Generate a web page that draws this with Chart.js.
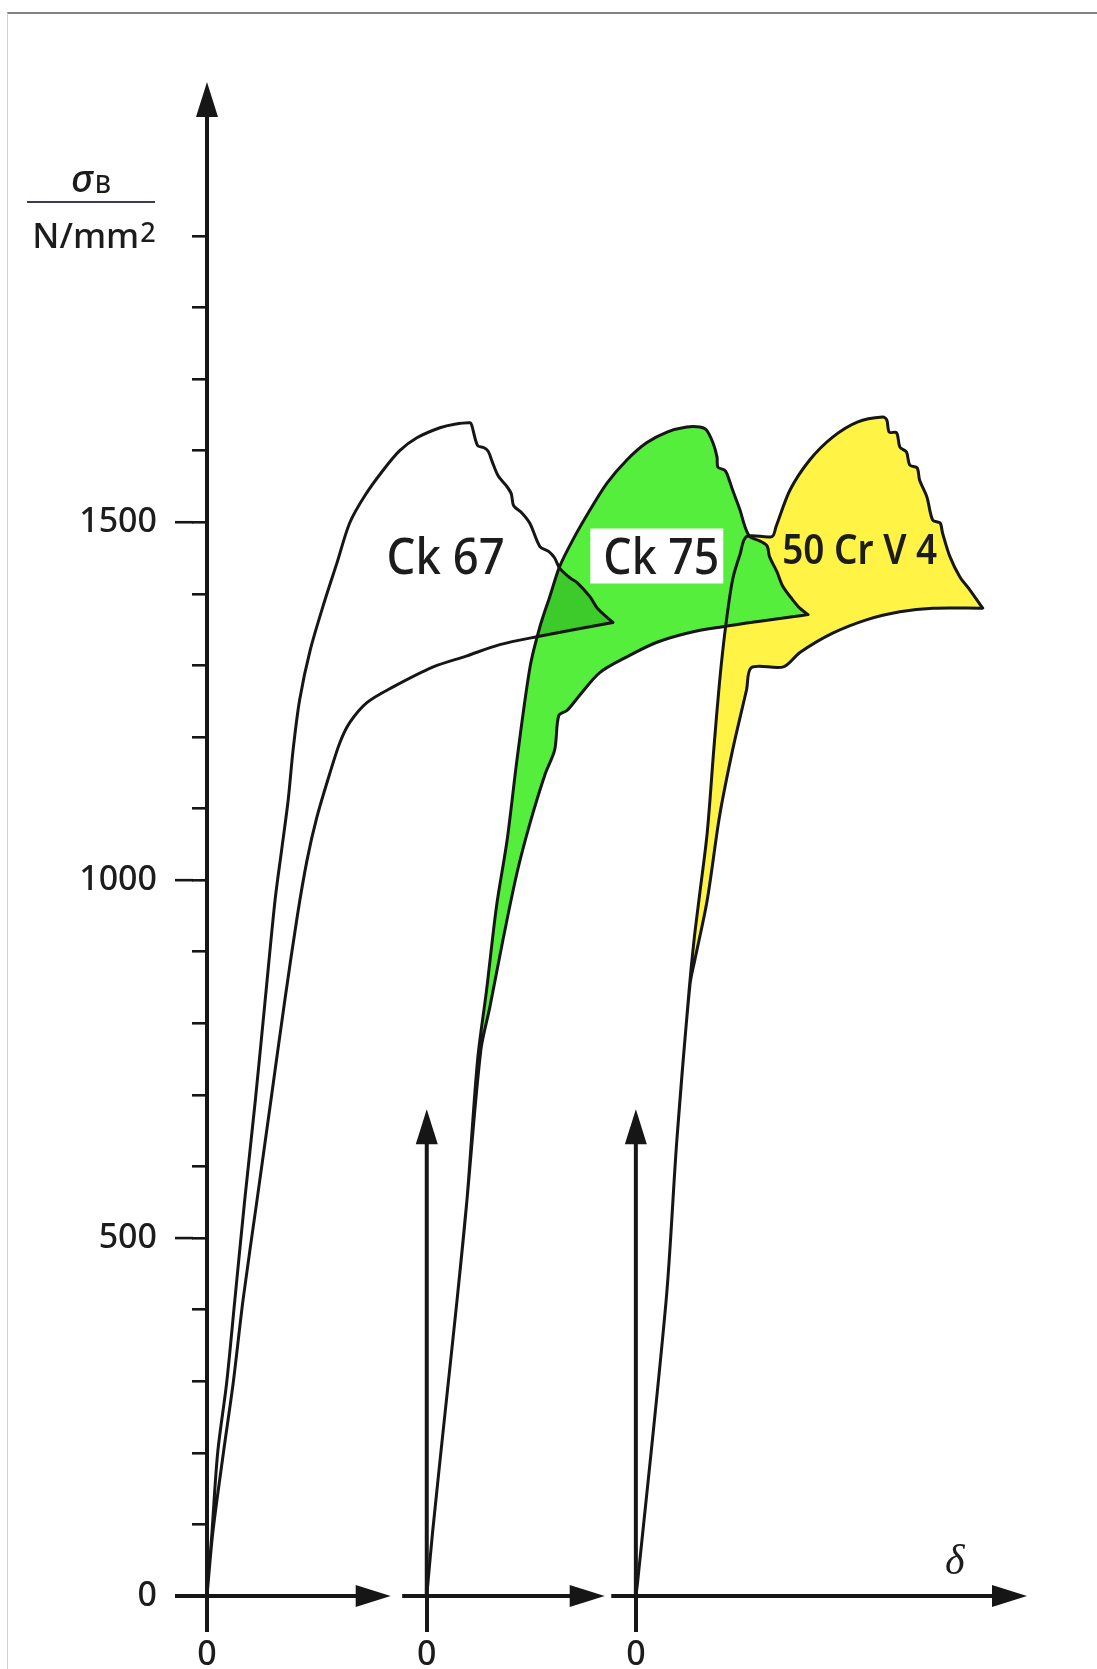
<!DOCTYPE html>
<html>
<head>
<meta charset="utf-8">
<script src="https://cdn.jsdelivr.net/npm/chart.js@4.4.1/dist/chart.umd.min.js"></script>
<style>
  html, body { margin: 0; padding: 0; background: #fff; }
  #wrap { position: relative; width: 1097px; height: 1669px; overflow: hidden; }
  #frame { position: absolute; left: 7px; top: 12px; right: -2px; bottom: -2px;
           border-top: 2px solid #80828f; border-left: 1px solid #d2d2d2; pointer-events: none; }
  canvas { display: block; }
</style>
</head>
<body>
<div id="wrap">
  <canvas id="chart" width="1097" height="1669"></canvas>
  <div id="frame"></div>
</div>
<script>
// zero points of the three δ axes (one per steel)
const ORIGINS = [0, 26.8, 52.3];

const yTicks = [0, 100, 200, 300, 400, 500, 600, 700, 800, 900, 1000,
                1100, 1200, 1300, 1400, 1500, 1600, 1700, 1800, 1900];
const yLabelled = [0, 500, 1000, 1500];
const xTickLabels = ['0', '0', '0'];
const Y_MAX = 2115;       // top of the σ arrow
const SUB_AXIS_TOP = 680; // top of the 2nd / 3rd arrows
const axisSegments = [[-3.9, 22.4], [23.8, 48.5], [49.3, 100]];

// [δ, σB] — upper edge runs origin -> peak -> tip, lower edge origin -> tip
const ck67Upper = [[0,0],[0.6,88],[1.3,200],[2.4,298],[3.4,414],[4.6,553],[5.9,693],[7.1,833],
  [8.3,972],[9.1,1042],[9.9,1112],[10.5,1182],[11.3,1252],[12.6,1322],[14.4,1392],[15.9,1445],
  [17.4,1499],[19.3,1538],[21.5,1573],[23.5,1600],[25.6,1618],[28.4,1632],[30.2,1637],[32.1,1639],
  [32.3,1635],[33.0,1607],[33.8,1604],[34.3,1599],[34.8,1584],[35.5,1565],[36.5,1551],[37.1,1540],
  [37.4,1523],[38.4,1513],[39.4,1498],[40.6,1466],[41.7,1459],[42.4,1450],[43.0,1436],[44.3,1422],
  [45.1,1416],[46.7,1396],[47.6,1380],[49.5,1360]];
const ck67Lower = [[0,0],[0.7,88],[2.0,200],[3.2,298],[4.4,414],[6.1,553],[7.8,693],[9.5,833],
  [11.0,949],[12.2,1028],[13.4,1088],[15.0,1150],[16.2,1192],[17.4,1220],[19.5,1248],[22.7,1270],
  [27.6,1298],[31.6,1313],[35.7,1329],[40.2,1340],[49.5,1360]];

const ck75Upper = [[0,0],[0.7,88],[2.4,274],[3.7,414],[4.9,553],[6.2,749],[7.3,847],[8.5,963],
  [9.8,1056],[11.0,1168],[12.6,1298],[13.8,1354],[15.0,1396],[16.2,1438],[17.8,1475],[19.9,1517],
  [22.0,1555],[24.4,1587],[26.8,1611],[29.3,1626],[31.7,1633],[33.3,1633],[34.1,1629],[34.9,1611],
  [35.4,1591],[35.5,1577],[36.3,1573],[36.6,1568],[37.3,1545],[38.2,1517],[38.8,1494],[39.4,1480],
  [40.6,1474],[41.5,1467],[41.8,1452],[42.7,1431],[43.4,1411],[44.6,1392],[45.5,1380],[46.5,1371]];
const ck75Lower = [[0,0],[0.7,88],[2.4,274],[3.7,414],[4.9,553],[6.6,763],[7.7,823],[9.3,917],
  [11.0,1010],[12.6,1080],[14.4,1147],[15.6,1182],[16.1,1230],[17.1,1237],[18.7,1259],[21.1,1290],
  [24.4,1312],[28.0,1332],[32.1,1346],[36.1,1354],[40.2,1361],[44.6,1368],[46.5,1371]];

const crv4Upper = [[0,0],[0.2,18],[3.7,414],[5.0,637],[6.5,847],[7.1,917],[7.8,982],[8.7,1066],
  [9.5,1182],[10.2,1276],[10.9,1350],[11.8,1420],[12.7,1455],[13.5,1480],[16.6,1480],[17.1,1494],
  [18.8,1545],[21.2,1587],[24.0,1619],[27.0,1640],[30.1,1647],[30.6,1643],[30.9,1626],[31.8,1625],
  [32.2,1605],[33.0,1598],[33.4,1580],[34.3,1576],[34.6,1559],[35.5,1535],[36.2,1503],[37.1,1499],
  [37.4,1485],[38.3,1452],[39.5,1424],[40.7,1406],[42.3,1380]];
const crv4Lower = [[0,0],[0.2,18],[3.7,414],[5.0,637],[6.6,854],[7.2,889],[8.7,972],[10.2,1089],
  [11.8,1182],[13.5,1266],[14.1,1297],[18.0,1298],[20.0,1318],[24.0,1345],[28.2,1364],[32.2,1375],
  [36.2,1380],[42.3,1380]];

const GREEN = '#55ee3c';
const GREEN_DARK = '#3ccb2b';
const YELLOW = '#fff445';
const INK = '#161616';
const FONT = '"Noto Sans", sans-serif';

// label anchors: x = δ, y = σ of the text baseline
const curveLabels = [
  { text: 'Ck 67', x: 29.1, y: 1427, size: 50, weight: 500, maxWidth: 118, box: false },
  { text: 'Ck 75', x: 55.4, y: 1427, size: 50, weight: 500, maxWidth: 116, box: true },
  { text: '50 Cr V 4', x: 79.6, y: 1442, size: 42, weight: 600, maxWidth: 155, box: false }
];

function outline(upper, lower, origin) {
  return upper.concat(lower.slice().reverse()).map(([d, s]) => ({ x: origin + d, y: s }));
}

function arrowHead(ctx, x, y, dx, dy) {
  // tip at (x, y), pointing along (dx, dy)
  const len = 35, half = 11;
  const bx = x - dx * len, by = y - dy * len;
  ctx.beginPath();
  ctx.moveTo(x, y);
  ctx.lineTo(bx - dy * half, by + dx * half);
  ctx.lineTo(bx + dy * half, by - dx * half);
  ctx.closePath();
  ctx.fill();
}

const overlapPlugin = {
  id: 'overlap',
  beforeDatasetsDraw(chart) {
    // Ck 67 band lying on the Ck 75 band -> darker green
    const ctx = chart.ctx;
    const a = chart.getDatasetMeta(0).dataset;
    const b = chart.getDatasetMeta(1).dataset;
    ctx.save();
    ctx.beginPath();
    a.path(ctx);
    ctx.closePath();
    ctx.clip();
    ctx.beginPath();
    b.path(ctx);
    ctx.closePath();
    ctx.fillStyle = GREEN_DARK;
    ctx.fill();
    ctx.restore();
  }
};

const axesPlugin = {
  id: 'arrowAxes',
  afterDatasetsDraw(chart) {
    const ctx = chart.ctx;
    const xs = chart.scales.x, ys = chart.scales.y;
    const y0 = ys.getPixelForValue(0);
    ctx.save();
    ctx.strokeStyle = INK;
    ctx.fillStyle = INK;
    ctx.lineWidth = 4;

    // σ axis
    const xa = xs.getPixelForValue(ORIGINS[0]);
    const yTop = ys.getPixelForValue(Y_MAX);
    ctx.beginPath();
    ctx.moveTo(xa, y0);
    ctx.lineTo(xa, yTop + 30);
    ctx.stroke();
    arrowHead(ctx, xa, yTop, 0, -1);

    // second and third σ arrows
    const ySub = ys.getPixelForValue(SUB_AXIS_TOP);
    ORIGINS.slice(1).forEach(o => {
      const px = xs.getPixelForValue(o);
      ctx.beginPath();
      ctx.moveTo(px, y0);
      ctx.lineTo(px, ySub + 30);
      ctx.stroke();
      arrowHead(ctx, px, ySub, 0, -1);
    });

    // δ axis pieces
    axisSegments.forEach(([s, e]) => {
      const p1 = xs.getPixelForValue(s), p2 = xs.getPixelForValue(e);
      ctx.beginPath();
      ctx.moveTo(p1, y0);
      ctx.lineTo(p2 - 30, y0);
      ctx.stroke();
      arrowHead(ctx, p2, y0, 1, 0);
    });

    // longer ticks at the labelled values
    ctx.lineWidth = 2.6;
    yLabelled.forEach(v => {
      const py = ys.getPixelForValue(v);
      ctx.beginPath();
      ctx.moveTo(xa - 32, py);
      ctx.lineTo(xa - 14, py);
      ctx.stroke();
    });

    // curve names
    ctx.textAlign = 'center';
    ctx.textBaseline = 'alphabetic';
    curveLabels.forEach(l => {
      const px = xs.getPixelForValue(l.x), py = ys.getPixelForValue(l.y);
      ctx.font = l.weight + ' ' + l.size + 'px ' + FONT;
      const w = Math.min(ctx.measureText(l.text).width, l.maxWidth);
      if (l.box) {
        ctx.fillStyle = '#fff';
        ctx.fillRect(px - w / 2 - 13, py - 46, w + 17, 55);
      }
      ctx.fillStyle = '#1c1c1c';
      ctx.fillText(l.text, px, py, l.maxWidth);
    });

    // y title: σB over N/mm2
    const cx = xa - 116;
    ctx.textAlign = 'left';
    ctx.fillStyle = '#1c1c1c';
    ctx.font = 'italic 500 38px ' + FONT;
    const ws = ctx.measureText('σ').width;
    ctx.font = '500 25px ' + FONT;
    const wb = ctx.measureText('B').width;
    let tx = cx - (ws + wb + 2) / 2;
    ctx.font = 'italic 500 38px ' + FONT;
    ctx.fillText('σ', tx, 192);
    ctx.font = '500 25px ' + FONT;
    ctx.fillText('B', tx + ws + 2, 193);

    ctx.strokeStyle = '#3b3b55';
    ctx.lineWidth = 2;
    ctx.beginPath();
    ctx.moveTo(cx - 64, 202);
    ctx.lineTo(cx + 64, 202);
    ctx.stroke();

    ctx.font = '500 35px ' + FONT;
    const wn = ctx.measureText('N/mm').width;
    ctx.font = '500 27px ' + FONT;
    const w2 = ctx.measureText('2').width;
    tx = cx + 3 - (wn + w2 + 1) / 2;
    ctx.font = '500 35px ' + FONT;
    ctx.fillText('N/mm', tx, 248);
    ctx.font = '500 27px ' + FONT;
    ctx.fillText('2', tx + wn + 1, 242);

    // δ label
    ctx.textAlign = 'center';
    ctx.font = 'italic 42px "Liberation Serif", serif';
    ctx.fillText('δ', xs.getPixelForValue(91.2), y0 - 22);
    ctx.restore();
  }
};

const lineStyle = {
  borderColor: INK,
  borderWidth: 3,
  borderJoinStyle: 'round',
  pointRadius: 0,
  tension: 0.3
};

new Chart(document.getElementById('chart'), {
  type: 'line',
  data: {
    datasets: [
      Object.assign({ label: 'Ck 67', data: outline(ck67Upper, ck67Lower, ORIGINS[0]), fill: false }, lineStyle),
      Object.assign({ label: 'Ck 75', data: outline(ck75Upper, ck75Lower, ORIGINS[1]),
        fill: 'shape', backgroundColor: GREEN }, lineStyle),
      Object.assign({ label: '50 Cr V 4', data: outline(crv4Upper, crv4Lower, ORIGINS[2]),
        fill: 'shape', backgroundColor: YELLOW }, lineStyle)
    ]
  },
  options: {
    responsive: false,
    animation: false,
    events: [],
    layout: { padding: { top: 82, right: 70, left: 0, bottom: 0 } },
    plugins: {
      legend: { display: false },
      tooltip: { enabled: false },
      filler: { drawTime: 'beforeDatasetsDraw' }
    },
    scales: {
      x: {
        type: 'linear',
        min: 0,
        max: 100,
        afterBuildTicks: axis => { axis.ticks = ORIGINS.map(v => ({ value: v })); },
        afterFit: axis => { axis.height = 73; },
        border: { display: false },
        grid: { drawOnChartArea: false, tickLength: 36, color: INK, lineWidth: 4 },
        ticks: {
          autoSkip: false,
          maxRotation: 0,
          padding: 3,
          color: '#1c1c1c',
          font: { family: 'Noto Sans', size: 34, weight: 500 },
          callback: (v, i) => xTickLabels[i]
        }
      },
      y: {
        type: 'linear',
        min: 0,
        max: Y_MAX,
        afterBuildTicks: axis => { axis.ticks = yTicks.map(v => ({ value: v })); },
        afterFit: axis => { axis.width = 207; },
        border: { display: false },
        grid: { drawOnChartArea: false, tickLength: 15, color: INK, lineWidth: 2.6 },
        ticks: {
          padding: 35,
          color: '#1c1c1c',
          font: { family: 'Noto Sans', size: 34, weight: 500 },
          callback: v => yLabelled.includes(v) ? String(v) : ''
        }
      }
    }
  },
  plugins: [overlapPlugin, axesPlugin]
});
</script>
</body>
</html>
